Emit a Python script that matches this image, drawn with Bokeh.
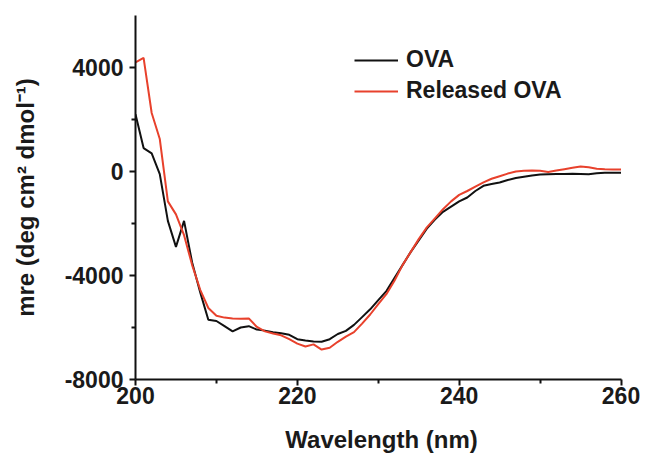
from bokeh.plotting import figure
from bokeh.models import FixedTicker, Range1d, Legend, LegendItem, CustomJSTickFormatter
from bokeh.embed import file_html
from bokeh.resources import INLINE

wavelength = list(range(200, 261))
ova = [2200, 900, 700, -100, -1900, -2900, -1900, -3500, -4650, -5700,
       -5750, -5950, -6150, -6000, -5950, -6080, -6120, -6180, -6220, -6280,
       -6450, -6500, -6540, -6550, -6450, -6250, -6130, -5900, -5600, -5300,
       -4950, -4600, -4100, -3600, -3100, -2650, -2200, -1850, -1550, -1350,
       -1150, -1000, -750, -550, -480, -420, -330, -250, -200, -150,
       -120, -110, -100, -100, -90, -100, -110, -70, -50, -50, -50]
released = [4200, 4370, 2250, 1250, -1150, -1650, -2450, -3600, -4550, -5250,
            -5550, -5620, -5650, -5660, -5650, -5980, -6150, -6230, -6300, -6450,
            -6620, -6730, -6650, -6850, -6780, -6550, -6350, -6180, -5850, -5500,
            -5100, -4720, -4200, -3600, -3100, -2600, -2150, -1800, -1450, -1150,
            -900, -750, -580, -420, -280, -180, -80, 0, 30, 40,
            30, -20, 40, 90, 140, 190, 160, 110, 90, 80, 80]

x_major = [200, 220, 240, 260]
x_minor = [210, 230, 250]
y_major = [-8000, -4000, 0, 4000]
y_minor = [-6000, -2000, 2000]

FONT = "Liberation Sans"

p = figure(width=642, height=448, output_backend="svg", toolbar_location=None,
           x_range=Range1d(200, 260.8), y_range=Range1d(-8000, 6000),
           frame_width=492, frame_height=364,
           min_border_left=135, min_border_right=15, min_border_top=15, min_border_bottom=69)
p.outline_line_color = None
p.xgrid.visible = False
p.ygrid.visible = False
p.background_fill_color = "white"
p.border_fill_color = "white"

r1 = p.line(wavelength, ova, line_color="#111111", line_width=2)
r2 = p.line(wavelength, released, line_color="#e8412c", line_width=2)

p.xaxis.ticker = FixedTicker(ticks=x_major, minor_ticks=x_minor)
p.yaxis.ticker = FixedTicker(ticks=y_major, minor_ticks=y_minor)
p.yaxis.formatter = CustomJSTickFormatter(code="return String(tick);")
p.xaxis.bounds = (200, 260)
p.xaxis.axis_label = "Wavelength (nm)"
p.yaxis.axis_label = "mre (deg cm\u00b2 dmol\u207b\u00b9)"

for ax in (p.xaxis[0], p.yaxis[0]):
    ax.axis_line_width = 2
    ax.axis_line_color = "#111111"
    ax.major_tick_line_width = 2
    ax.minor_tick_line_width = 2
    ax.major_tick_line_color = "#111111"
    ax.minor_tick_line_color = "#111111"
    ax.major_tick_out = 6
    ax.major_tick_in = 0
    ax.minor_tick_out = 4
    ax.minor_tick_in = 0
    ax.major_label_text_font = FONT
    ax.major_label_text_font_style = "bold"
    ax.major_label_text_font_size = "23px"
    ax.major_label_text_color = "#1a1a1a"
    ax.axis_label_text_font = FONT
    ax.axis_label_text_font_style = "bold"
    ax.axis_label_text_font_size = "24px"
    ax.axis_label_text_color = "#1a1a1a"
p.xaxis.major_label_standoff = 1
p.yaxis.major_label_standoff = 6
p.xaxis.axis_label_standoff = 19
p.yaxis.axis_label_standoff = 23

legend = Legend(items=[LegendItem(label="OVA", renderers=[r1]),
                       LegendItem(label="Released OVA", renderers=[r2])],
                location=(219, 275), orientation="vertical")
legend.border_line_color = None
legend.background_fill_alpha = 0
legend.padding = 0
legend.margin = 0
legend.spacing = 4
legend.glyph_width = 44
legend.glyph_height = 20
legend.label_height = 20
legend.label_standoff = 8
legend.label_text_font = FONT
legend.label_text_font_style = "bold"
legend.label_text_font_size = "23px"
legend.label_text_color = "#1a1a1a"
p.add_layout(legend)

open("out.html", "w").write(file_html(p, INLINE))
